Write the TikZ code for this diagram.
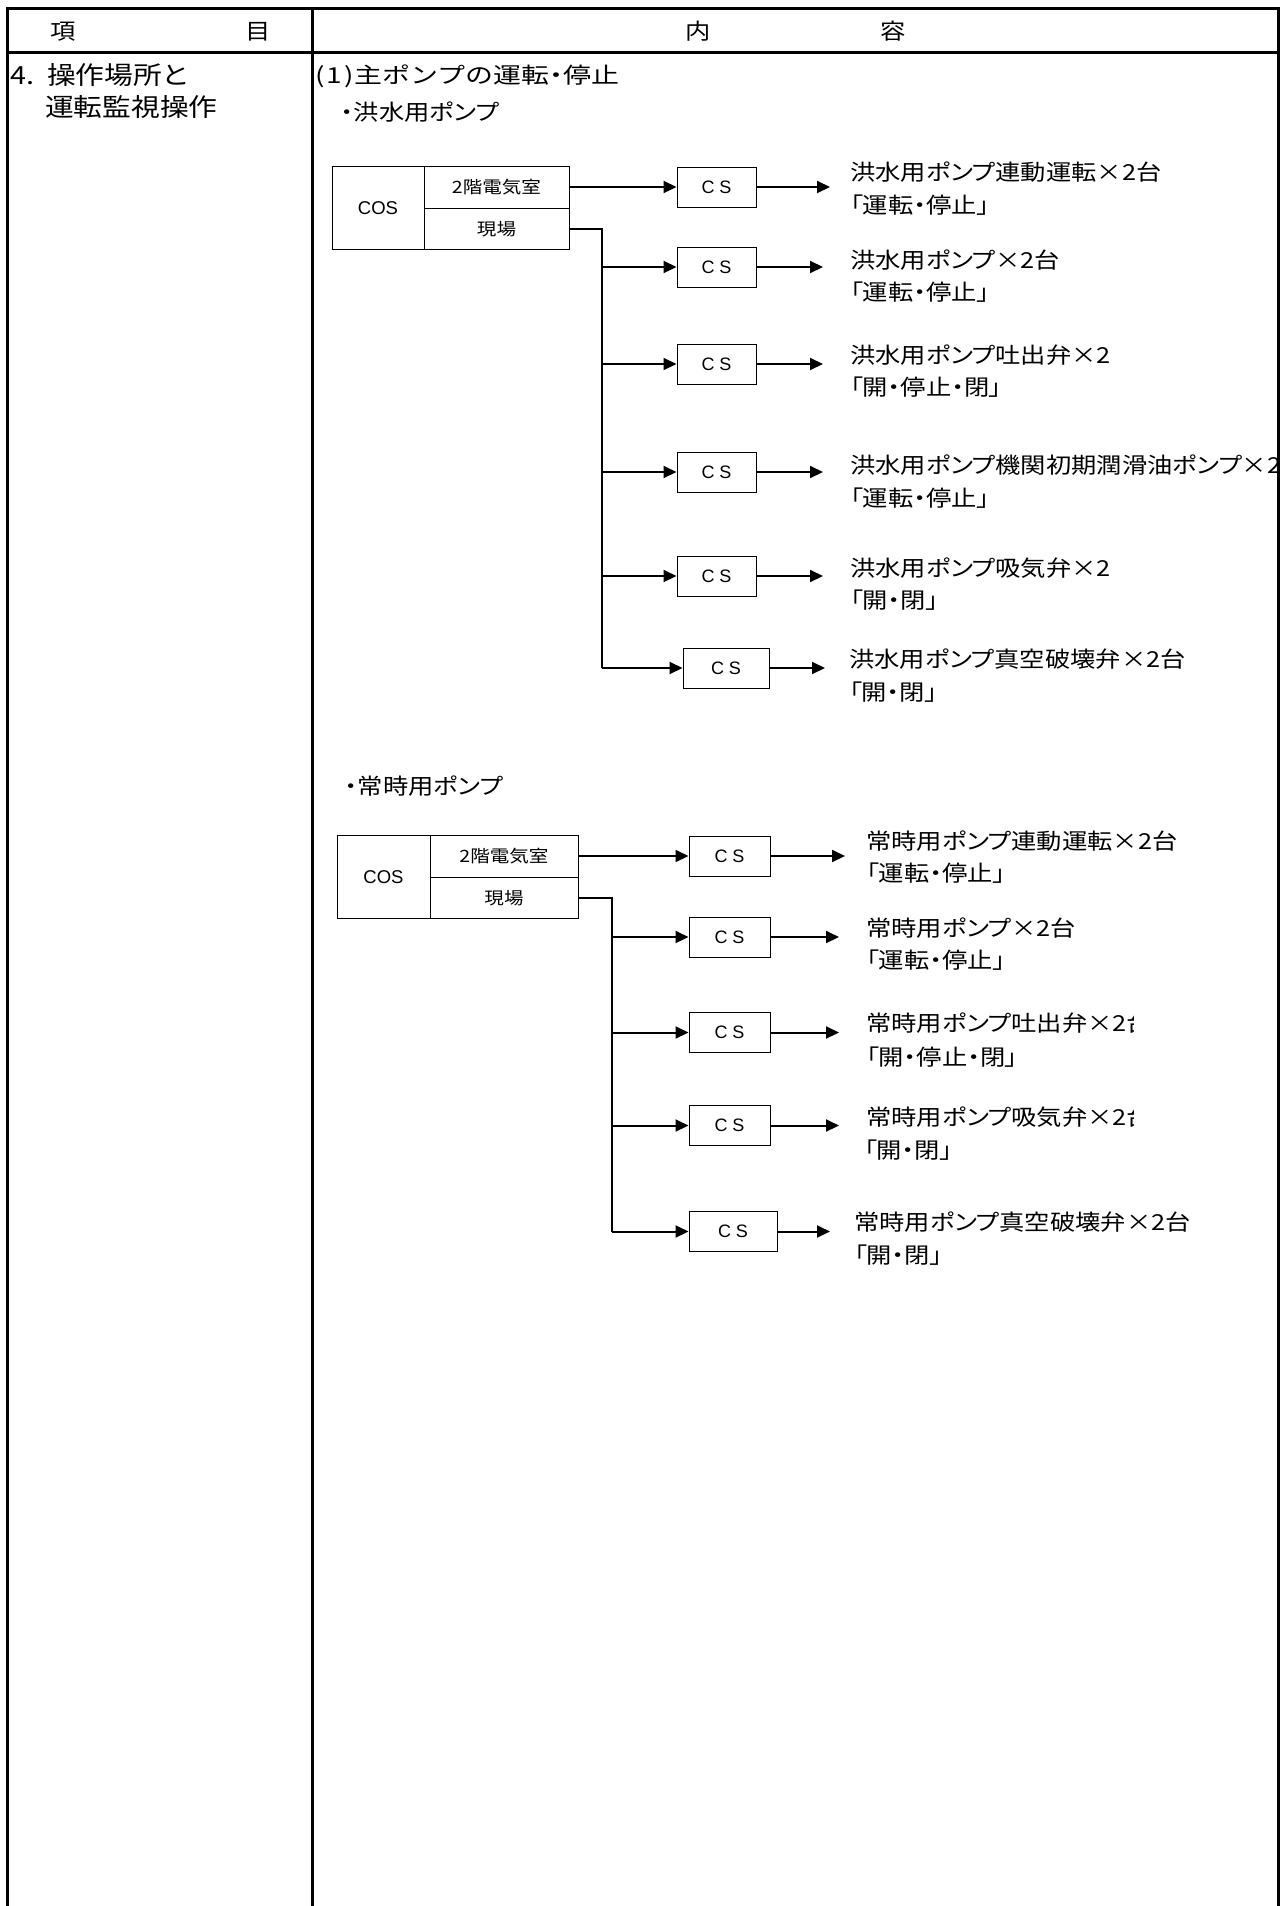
\documentclass[tikz,border=0pt]{standalone}
\usepackage{fontspec}
\newfontfamily\jp[FakeStretch=1.15,RawFeature=+palt]{Noto Sans CJK JP}
\newfontfamily\jpt[FakeStretch=1.27]{Noto Sans CJK JP}
\newfontfamily\jptp[FakeStretch=1.27,RawFeature=+palt]{Noto Sans CJK JP}
\newfontfamily\ar{Liberation Sans}
\usetikzlibrary{arrows.meta}
\begin{document}
\begin{tikzpicture}[x=1pt,y=-1pt,
  tbl/.style={line width=3pt,line cap=rect},
  conn/.style={line width=2pt},
  arr/.style={conn,-{Triangle[length=13pt,width=12pt]}},
  lbl/.style={anchor=west,inner sep=0pt,font=\jp\fontsize{22}{22}\selectfont,text height=19.4pt,text depth=2.6pt},
  big/.style={anchor=west,inner sep=0pt,font=\jp\fontsize{25}{25}\selectfont,text height=22pt,text depth=3pt},
  hdr/.style={inner sep=0pt,font=\jp\fontsize{22}{22}\selectfont,text height=19.4pt,text depth=2.6pt},
  cellj/.style={draw,line width=1pt,inner sep=0pt,font=\jp\fontsize{17}{17}\selectfont,text height=15pt,text depth=2pt},
  cosbox/.style={draw,line width=1pt,inner sep=0pt,font=\ar\fontsize{18.5}{18.5}\selectfont,text height=13.2pt,text depth=0pt},
  csbox/.style={draw,line width=1pt,inner sep=0pt,minimum height=40pt,font=\ar\fontsize{18}{18}\selectfont,text height=12.9pt,text depth=0pt}
]
\useasboundingbox (0,0) rectangle (1282,1906);
% table frame
\draw[tbl] (7,8) -- (1278,8);
\draw[tbl] (7,52) -- (1278,52);
\draw[tbl] (7,8) -- (7,1910);
\draw[tbl] (312,8) -- (312,1910);
\draw[tbl] (1278,8) -- (1278,1910);
% header
\node[hdr] (h1) at (63,31) {項};
\node[hdr] (h2) at (258,31) {目};
\node[hdr] (h3) at (698,31) {内};
\node[hdr] (h4) at (893,31) {容};
% item column
\node[big] (item1) at (10,75) {4.\hspace{13pt}操作場所と};
\node[big] (item2) at (45,107) {運転監視操作};
% content titles
\node[lbl,font=\jpt\fontsize{22}{22}\selectfont] (sec) at (315,75) {(\hspace{2pt}1\hspace{2pt})\hspace{1pt}主ポンプの運転{\jptp ・}停止};
\node[lbl] (subA) at (341,112) {・洪水用ポンプ};
\node[lbl] (subB) at (345,786) {・常時用ポンプ};

% ===== section A =====
\node[cosbox,minimum width=92pt,minimum height=83pt] (cosA) at (378,207.5) {COS};
\node[cellj,minimum width=145pt,minimum height=42pt] (roomA) at (496.5,187) {2階電気室};
\node[cellj,minimum width=145pt,minimum height=41pt] (siteA) at (496.5,228.5) {現場};
\node[csbox,minimum width=79pt] (a1) at (716.5,187) {C S};
\node[csbox,minimum width=79pt] (a2) at (716.5,267) {C S};
\node[csbox,minimum width=79pt] (a3) at (716.5,364) {C S};
\node[csbox,minimum width=79pt] (a4) at (716.5,472) {C S};
\node[csbox,minimum width=79pt] (a5) at (716.5,576) {C S};
\node[csbox,minimum width=86pt] (a6) at (726,668) {C S};
\coordinate (ta) at (602,228.5);
\coordinate (tb) at (602,668);
\draw[arr] (roomA.east) -- (a1.west);
\draw[conn] (siteA.east) -- (ta) -- (tb);
\draw[arr] (ta |- a2.west) -- (a2.west);
\draw[arr] (ta |- a3.west) -- (a3.west);
\draw[arr] (ta |- a4.west) -- (a4.west);
\draw[arr] (ta |- a5.west) -- (a5.west);
\draw[arr] (tb) -- (a6.west);
\coordinate (oa1) at (830,187);
\coordinate (oa2) at (823,267);
\coordinate (oa3) at (823,364);
\coordinate (oa4) at (823,472);
\coordinate (oa5) at (823,576);
\coordinate (oa6) at (825,668);
\draw[arr] (a1.east) -- (oa1);
\draw[arr] (a2.east) -- (oa2);
\draw[arr] (a3.east) -- (oa3);
\draw[arr] (a4.east) -- (oa4);
\draw[arr] (a5.east) -- (oa5);
\draw[arr] (a6.east) -- (oa6);
\node[lbl] (la1) at (850,172) {洪水用ポンプ連動運転×2台};
\node[lbl] (lb1) at (850,205) {「運転・停止」};
\node[lbl] (la2) at (850,260) {洪水用ポンプ×2台};
\node[lbl] (lb2) at (850,292) {「運転・停止」};
\node[lbl] (la3) at (850,355) {洪水用ポンプ吐出弁×2};
\node[lbl] (lb3) at (850,387) {「開・停止・閉」};
\begin{scope}
\clip (840,440) rectangle (1276.5,520);
\node[lbl] (la4) at (850,465) {洪水用ポンプ機関初期潤滑油ポンプ×2台};
\end{scope}
\node[lbl] (lb4) at (850,498) {「運転・停止」};
\node[lbl] (la5) at (850,568) {洪水用ポンプ吸気弁×2};
\node[lbl] (lb5) at (850,600) {「開・閉」};
\node[lbl] (la6) at (849,659) {洪水用ポンプ真空破壊弁×2台};
\node[lbl] (lb6) at (849,692) {「開・閉」};

% ===== section B =====
\node[cosbox,minimum width=93pt,minimum height=83pt] (cosB) at (383.5,876.5) {COS};
\node[cellj,minimum width=148pt,minimum height=42pt] (roomB) at (504,856) {2階電気室};
\node[cellj,minimum width=148pt,minimum height=41pt] (siteB) at (504,897.5) {現場};
\node[csbox,minimum width=81pt] (b1) at (729.5,856) {C S};
\node[csbox,minimum width=81pt] (b2) at (729.5,937) {C S};
\node[csbox,minimum width=81pt] (b3) at (729.5,1032.5) {C S};
\node[csbox,minimum width=81pt] (b4) at (729.5,1125.5) {C S};
\node[csbox,minimum width=88pt] (b5) at (733,1231.5) {C S};
\coordinate (tc) at (612,897.5);
\coordinate (td) at (612,1231.5);
\draw[arr] (roomB.east) -- (b1.west);
\draw[conn] (siteB.east) -- (tc) -- (td);
\draw[arr] (tc |- b2.west) -- (b2.west);
\draw[arr] (tc |- b3.west) -- (b3.west);
\draw[arr] (tc |- b4.west) -- (b4.west);
\draw[arr] (td) -- (b5.west);
\coordinate (ob1) at (845,856);
\coordinate (ob2) at (839,937);
\coordinate (ob3) at (839,1032.5);
\coordinate (ob4) at (839,1125.5);
\coordinate (ob5) at (830,1231.5);
\draw[arr] (b1.east) -- (ob1);
\draw[arr] (b2.east) -- (ob2);
\draw[arr] (b3.east) -- (ob3);
\draw[arr] (b4.east) -- (ob4);
\draw[arr] (b5.east) -- (ob5);
\node[lbl] (lc1) at (866,841) {常時用ポンプ連動運転×2台};
\node[lbl] (ld1) at (866,873) {「運転・停止」};
\node[lbl] (lc2) at (866,928) {常時用ポンプ×2台};
\node[lbl] (ld2) at (866,960) {「運転・停止」};
\begin{scope}
\clip (856,1000) rectangle (1133,1135);
\node[lbl] (lc3) at (866,1023) {常時用ポンプ吐出弁×2台};
\node[lbl] (lc4) at (866,1117) {常時用ポンプ吸気弁×2台};
\end{scope}
\node[lbl] (ld3) at (866,1057) {「開・停止・閉」};
\node[lbl] (ld4) at (864,1150) {「開・閉」};
\node[lbl] (lc5) at (854,1222) {常時用ポンプ真空破壊弁×2台};
\node[lbl] (ld5) at (854,1255) {「開・閉」};
\end{tikzpicture}
\end{document}
